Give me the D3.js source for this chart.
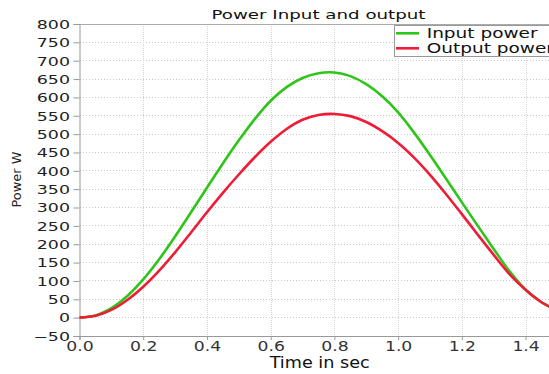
<!DOCTYPE html>
<html><head><meta charset="utf-8">
<script src="https://cdn.jsdelivr.net/npm/d3@7"></script>
<style>
html,body{margin:0;padding:0;background:#fff;}
svg{display:block;font-family:"DejaVu Sans",Verdana,sans-serif;}
</style></head>
<body>
<svg id="chart" width="549" height="374"></svg>
<script>
const times = [0,0.05,0.1,0.15,0.2,0.25,0.3,0.35,0.4,0.45,0.5,0.55,0.6,0.65,0.7,0.75,0.8,0.85,0.9,0.95,1.0,1.05,1.1,1.15,1.2,1.25,1.3,1.35,1.4,1.45,1.475];
const inputPower = [0,6,26,59,104,159,221,287,354,420,483,541,591,628,653,666,668,658,636,603,559,504,443,379,314,250,187,126,76,42,30];
const outputPower = [0,5,21,48,84,128,178,232,287,340,390,437,479,514,539,552,555,549,533,508,476,436,389,337,282,226,171,118,76,42,30];
const seriesNames = ["Input power","Output power"];
const xTicks = [0,0.2,0.4,0.6,0.8,1.0,1.2,1.4];
const yTicks = d3.range(-50,801,50);
const title = "Power Input and output";
const xLabel = "Time in sec";
const yLabel = "Power W";

const svg = d3.select("#chart");
const x = d3.scaleLinear().domain([0,1.4735]).range([79.5,549]);
const y = d3.scaleLinear().domain([-50,800]).range([336,24]);

// grid
const grid = svg.append("g");
grid.selectAll("line.h").data(yTicks.filter(v=>v>-50 && v<800)).enter().append("line")
  .attr("x1",x.range()[0]).attr("x2",549).attr("y1",d=>y(d)).attr("y2",d=>y(d))
  .attr("stroke","#c8c8c8").attr("stroke-width",1).attr("stroke-dasharray","1.5,1.5").attr("shape-rendering","crispEdges");
grid.selectAll("line.v").data(xTicks.filter(v=>v>0)).enter().append("line")
  .attr("x1",d=>Math.round(x(d))+0.5).attr("x2",d=>Math.round(x(d))+0.5).attr("y1",24).attr("y2",336)
  .attr("stroke","#d4d4d4").attr("stroke-width",1).attr("stroke-dasharray","1,1");

// frame top
svg.append("line").attr("x1",79.5).attr("x2",549).attr("y1",24.5).attr("y2",24.5).attr("stroke","#aaa");

// axes
const yAxis = svg.append("g").attr("transform","translate(79.5,0)")
  .call(d3.axisLeft(y).tickValues(yTicks).tickSize(6).tickPadding(3).tickFormat(d3.format("d")));
yAxis.select(".domain").attr("stroke","#999");
yAxis.selectAll(".tick line").attr("stroke","#999");
yAxis.selectAll(".tick text").attr("x",0).attr("dy","0.36em")
  .attr("transform","translate(-9.5,0) scale(1.45,1)")
  .attr("font-size","12px").attr("fill","#222").attr("font-family","DejaVu Sans");

const xAxis = svg.append("g").attr("transform","translate(0,336)")
  .call(d3.axisBottom(x).tickValues(xTicks).tickSize(4).tickFormat(d3.format(".1f")));
xAxis.select(".domain").attr("stroke","#999");
xAxis.selectAll(".tick line").attr("stroke","#999");
xAxis.selectAll(".tick text").attr("y",0).attr("dy",0)
  .attr("transform","translate(0,14.5) scale(1.18,1)")
  .attr("font-size","14.6px").attr("fill","#333").attr("font-family","DejaVu Sans");

// lines
const line = d3.line().x((d,i)=>x(times[i])).y(d=>y(d)).curve(d3.curveCatmullRom.alpha(0.5));
svg.append("path").datum(inputPower).attr("d",line).attr("fill","none").attr("stroke","#2ec41a").attr("stroke-width",2.6);
svg.append("path").datum(outputPower).attr("d",line).attr("fill","none").attr("stroke","#ee1c36").attr("stroke-width",2.6);

// title
svg.append("text").attr("transform","translate(318.5,18.5) scale(1.52,1)")
  .attr("text-anchor","middle").attr("font-size","12px").attr("fill","#111").text(title);
// x label
svg.append("text").attr("transform","translate(319.7,368.3) scale(1.175,1)")
  .attr("text-anchor","middle").attr("font-size","15px").attr("fill","#111").text(xLabel);
// y label
svg.append("text").attr("transform","translate(21,179.5) rotate(-90)")
  .attr("text-anchor","middle").attr("font-size","12.5px").attr("fill","#222")
  .attr("textLength",56).attr("lengthAdjust","spacingAndGlyphs").text(yLabel);

// legend
const lg = svg.append("g");
lg.append("rect").attr("x",394.5).attr("y",25.5).attr("width",170).attr("height",31)
  .attr("fill","#fff").attr("stroke","#999");
const colors = ["#2ec41a","#ee1c36"];
seriesNames.forEach((n,i)=>{
  const yy = 33.3 + i*15;
  lg.append("line").attr("x1",396).attr("x2",419).attr("y1",yy).attr("y2",yy)
    .attr("stroke",colors[i]).attr("stroke-width",2.6);
  lg.append("text").attr("transform",`translate(426.7,${yy+5}) scale(1.35,1)`)
    .attr("font-size","13.7px").attr("fill","#111").text(n);
});
</script>
</body></html>
